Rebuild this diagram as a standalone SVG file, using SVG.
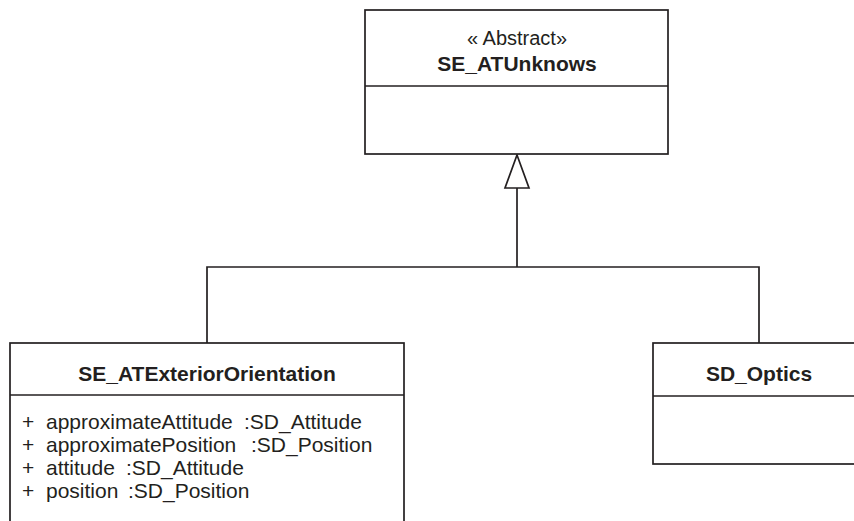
<svg xmlns="http://www.w3.org/2000/svg" width="854" height="521" viewBox="0 0 854 521">
  <style>
    .box { fill: #ffffff; stroke: #231f20; stroke-width: 1.7; }
    .sep { stroke: #231f20; stroke-width: 1.7; fill: none; }
    .edge { stroke: #231f20; stroke-width: 1.7; fill: none; }
    .head { fill: #ffffff; stroke: #231f20; stroke-width: 1.7; stroke-linejoin: miter; }
    .name { font-family: "Liberation Sans", Arial, sans-serif; font-weight: bold; font-size: 21px; fill: #231f20; text-anchor: middle; }
    .stereo { font-family: "Liberation Sans", Arial, sans-serif; font-size: 20px; fill: #231f20; text-anchor: middle; }
    .attr { font-family: "Liberation Sans", Arial, sans-serif; font-size: 21px; fill: #231f20; }
  </style>
  <rect width="854" height="521" fill="#ffffff"/>

  <!-- generalization connectors -->
  <g id="connectors">
    <polyline class="edge" points="207,343 207,267 759,267 759,343"/>
    <line class="edge" x1="517" y1="267" x2="517" y2="188"/>
    <polygon class="head" points="517,155 529,188 505,188"/>
  </g>

  <g id="SE_ATUnknows">
    <rect class="box" x="365" y="10" width="303" height="144"/>
    <line class="sep" x1="365" y1="86" x2="668" y2="86"/>
    <text class="stereo" x="517" y="45">« Abstract»</text>
    <text class="name" x="517" y="71">SE_ATUnknows</text>
  </g>

  <g id="SE_ATExteriorOrientation">
    <rect class="box" x="10" y="343" width="394" height="200"/>
    <line class="sep" x1="10" y1="395" x2="404" y2="395"/>
    <text class="name" x="207" y="381">SE_ATExteriorOrientation</text>
    <text class="attr" y="429"><tspan x="22">+</tspan><tspan x="46">approximateAttitude</tspan><tspan x="244">:SD_Attitude</tspan></text>
    <text class="attr" y="452"><tspan x="22">+</tspan><tspan x="46">approximatePosition</tspan><tspan x="251">:SD_Position</tspan></text>
    <text class="attr" y="475"><tspan x="22">+</tspan><tspan x="46">attitude</tspan><tspan x="126">:SD_Attitude</tspan></text>
    <text class="attr" y="498"><tspan x="22">+</tspan><tspan x="46">position</tspan><tspan x="128">:SD_Position</tspan></text>
  </g>

  <g id="SD_Optics">
    <rect class="box" x="653" y="343" width="220" height="121"/>
    <line class="sep" x1="653" y1="396" x2="873" y2="396"/>
    <text class="name" x="759" y="381">SD_Optics</text>
  </g>
</svg>
